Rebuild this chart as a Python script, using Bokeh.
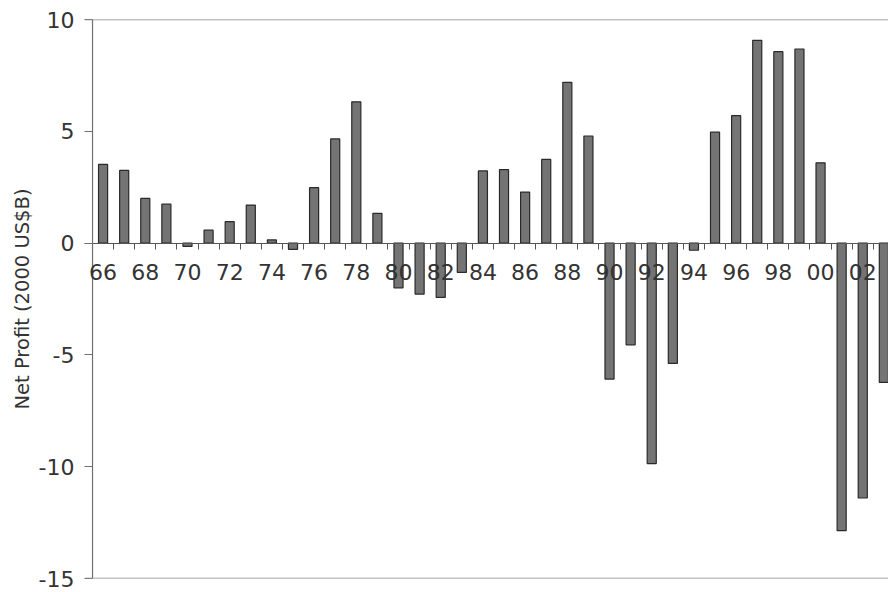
from bokeh.plotting import figure
from bokeh.models import FixedTicker, ColumnDataSource, Range1d, LinearAxis, Span, LabelSet
from bokeh.core.properties import value
from bokeh.embed import file_html
from bokeh.resources import INLINE

years = list(range(1966, 2004))
profit = [3.52, 3.25, 2.0, 1.74, -0.15, 0.58, 0.96, 1.70, 0.14, -0.28,
          2.48, 4.66, 6.32, 1.33, -2.0, -2.28, -2.43, -1.31, 3.23, 3.29,
          2.28, 3.74, 7.19, 4.79, -6.08, -4.55, -9.86, -5.38, -0.32, 4.96,
          5.70, 9.07, 8.56, 8.68, 3.59, -12.86, -11.40, -6.23]
label_years = [y for y in years if y % 2 == 0]
label_text = ["%02d" % (y % 100) for y in label_years]
y_ticks = [-15, -10, -5, 0, 5, 10]
grid_ticks = [-15, 10]

src = ColumnDataSource(dict(year=years, profit=profit))
lab_src = ColumnDataSource(dict(x=label_years, y=[0] * len(label_years), text=label_text))

FONT = "DejaVu Sans"
AXIS = "#707070"

p = figure(width=888, height=592, output_backend="svg", toolbar_location=None,
           x_range=Range1d(1965.12, 2003.22), y_range=Range1d(-15, 10),
           min_border_left=84, min_border_right=0, min_border_top=19,
           min_border_bottom=14, x_axis_location=None, y_axis_location=None)
p.outline_line_color = None
p.background_fill_color = "white"
p.border_fill_color = "white"
p.xgrid.visible = False
p.ygrid.visible = False

for g in grid_ticks:
    p.add_layout(Span(location=g, dimension="width", line_color="#888888",
                      line_width=1.5))
# vertical axis line at the start of the first year
p.add_layout(Span(location=years[0] - 0.5, dimension="height",
                  line_color=AXIS, line_width=1.2))

p.vbar(x="year", top="profit", bottom=0, width=0.43, source=src,
       fill_color="#747474", line_color="#2a2a2a", line_width=1.2)

# y axis (ticks drawn inward, towards the axis line)
yax = LinearAxis(ticker=FixedTicker(ticks=y_ticks))
yax.major_label_overrides = {t: str(t) for t in y_ticks}
yax.axis_label = "Net Profit (2000 US$B)"
yax.axis_label_text_font = FONT
yax.axis_label_text_font_style = "normal"
yax.axis_label_text_font_size = "19.5px"
yax.axis_label_text_color = "#333333"
yax.axis_label_standoff = 2
yax.major_label_text_font = FONT
yax.major_label_text_font_size = "22px"
yax.major_label_text_color = "#333333"
yax.major_tick_out = 0
yax.major_tick_in = 8
yax.minor_tick_out = 0
yax.minor_tick_in = 0
yax.major_label_standoff = 10
yax.axis_line_color = None
yax.major_tick_line_color = AXIS
p.add_layout(yax, "left")

# x axis crossing at zero (line + boundary ticks)
xax = LinearAxis(ticker=FixedTicker(ticks=label_years,
                                    minor_ticks=[y - 0.5 for y in years] + [years[-1] + 0.5]),
                 fixed_location=0)
xax.major_label_text_font_size = "0px"
xax.major_label_text_alpha = 0
xax.major_tick_out = 0
xax.major_tick_in = 0
xax.minor_tick_out = 6
xax.minor_tick_in = 0
xax.axis_line_color = "#555555"
xax.minor_tick_line_color = "#555555"
p.add_layout(xax, "below")

labels = LabelSet(x="x", y="y", text="text", source=lab_src,
                  text_font=value(FONT), text_font_size=value("22px"),
                  text_color="#333333", text_align="center",
                  text_baseline="top", y_offset=-21)
p.add_layout(labels)

open("out.html", "w").write(file_html(p, INLINE))
